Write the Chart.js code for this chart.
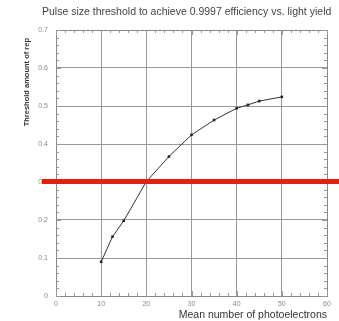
<!DOCTYPE html>
<html>
<head>
<meta charset="utf-8">
<script src="https://cdn.jsdelivr.net/npm/chart.js@4/dist/chart.umd.min.js"></script>
<style>
html,body{margin:0;padding:0;background:#fff;}
#wrap{width:339px;height:321px;}
</style>
</head>
<body>
<div id="wrap"><canvas id="c" width="339" height="321"></canvas></div>
<script>
const titleText = "Pulse size threshold to achieve 0.9997 efficiency vs. light yield";
const xTitle = "Mean number of photoelectrons";
const yTitle = "Threshold amount of rep";
const xValues = [10, 12.5, 15, 20, 25, 30, 35, 40, 42.5, 45, 50];
const yValues = [0.09, 0.156, 0.198, 0.301, 0.367, 0.424, 0.463, 0.494, 0.503, 0.513, 0.524];
const xTickLabels = [0, 10, 20, 30, 40, 50, 60];
const yTickLabels = [0, 0.1, 0.2, 0.3, 0.4, 0.5, 0.6, 0.7];
const thresholdValue = 0.3;

const points = xValues.map((x, i) => ({x: x, y: yValues[i]}));

const decor = {
  id: 'decor',
  afterDraw(chart) {
    const ctx = chart.ctx;
    const a = chart.chartArea;
    const xs = chart.scales.x, ys = chart.scales.y;
    ctx.save();
    // frame
    ctx.strokeStyle = '#888';
    ctx.lineWidth = 1;
    ctx.strokeRect(Math.round(a.left) + 0.5, Math.round(a.top) + 0.5, Math.round(a.right - a.left), Math.round(a.bottom - a.top));
    // minor ticks
    ctx.strokeStyle = '#999';
    ctx.beginPath();
    for (let v = xTickLabels[0]; v <= xTickLabels[xTickLabels.length - 1] + 1e-9; v += 2) {
      const px = Math.round(xs.getPixelForValue(v)) + 0.5;
      const len = (Math.abs(v % 10) < 1e-9) ? 5 : 3;
      ctx.moveTo(px, a.bottom); ctx.lineTo(px, a.bottom - len);
      ctx.moveTo(px, a.top); ctx.lineTo(px, a.top + len);
    }
    for (let k = 0; k <= 35; k++) {
      const v = k * 0.02;
      const py = Math.round(ys.getPixelForValue(v)) + 0.5;
      const len = (k % 5 === 0) ? 5 : 3;
      ctx.moveTo(a.left, py); ctx.lineTo(a.left + len, py);
      ctx.moveTo(a.right, py); ctx.lineTo(a.right - len, py);
    }
    ctx.stroke();
    // title
    ctx.fillStyle = '#444';
    ctx.font = '10.5px "Liberation Sans", Arial, sans-serif';
    ctx.textAlign = 'left';
    ctx.textBaseline = 'middle';
    ctx.fillText(titleText, 42, 12);
    // x title
    ctx.fillStyle = '#333';
    ctx.font = '10.5px "Liberation Sans", Arial, sans-serif';
    ctx.textAlign = 'right';
    ctx.fillText(xTitle, a.right, 315);
    // y title
    ctx.save();
    ctx.translate(27, a.top + 8);
    ctx.rotate(-Math.PI / 2);
    ctx.font = 'bold 7.5px "Liberation Sans", Arial, sans-serif';
    ctx.textAlign = 'right';
    ctx.fillStyle = '#333';
    ctx.fillText(yTitle, 0, 0);
    ctx.restore();
    // red threshold band
    const ry = ys.getPixelForValue(thresholdValue);
    ctx.fillStyle = '#e0230f';
    ctx.fillRect(42, ry - 3, chart.width - 42, 5);
    ctx.restore();
  }
};

new Chart(document.getElementById('c'), {
  type: 'scatter',
  data: {
    datasets: [{
      data: points,
      showLine: true,
      borderColor: '#333',
      backgroundColor: '#222',
      borderWidth: 1,
      pointStyle: 'rect',
      pointRadius: 1.8,
      pointBorderWidth: 0,
      tension: 0
    }]
  },
  options: {
    responsive: false,
    animation: false,
    devicePixelRatio: 1,
    layout: {padding: {top: 30, right: 12, left: 0, bottom: 0}},
    plugins: {legend: {display: false}, title: {display: false}, tooltip: {enabled: false}},
    scales: {
      x: {
        type: 'linear',
        min: xTickLabels[0], max: xTickLabels[xTickLabels.length - 1],
        afterBuildTicks: s => { s.ticks = xTickLabels.map(v => ({value: v})); },
        afterFit: s => { s.height = 25; },
        grid: {color: '#999', lineWidth: 1, drawTicks: false},
        border: {display: false},
        ticks: {color: '#888', font: {size: 7, family: 'Liberation Sans'}, padding: 4, maxRotation: 0,
          callback: v => String(v)}
      },
      y: {
        type: 'linear',
        min: yTickLabels[0], max: yTickLabels[yTickLabels.length - 1],
        afterBuildTicks: s => { s.ticks = yTickLabels.map(v => ({value: v})); },
        afterFit: s => { s.width = 56; },
        grid: {color: '#999', lineWidth: 1, drawTicks: false},
        border: {display: false},
        ticks: {color: '#888', font: {size: 7, family: 'Liberation Sans'}, padding: 8,
          callback: v => (v === 0 ? '0' : Number(v).toFixed(1))}
      }
    }
  },
  plugins: [decor]
});
</script>
</body>
</html>
